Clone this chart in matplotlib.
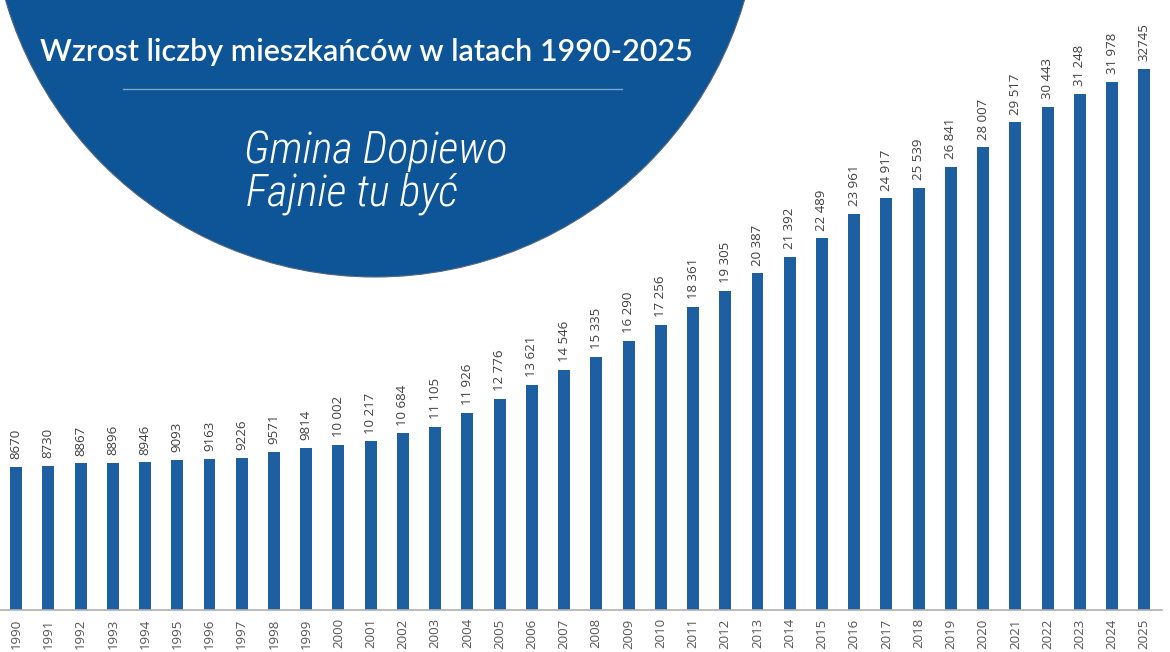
import matplotlib
matplotlib.use("Agg")
import matplotlib.pyplot as plt
from matplotlib.patches import Circle
from matplotlib.lines import Line2D

years = [str(y) for y in range(1990, 2026)]
values = [8670, 8730, 8867, 8896, 8946, 9093, 9163, 9226, 9571, 9814,
          10002, 10217, 10684, 11105, 11926, 12776, 13621, 14546, 15335, 16290,
          17256, 18361, 19305, 20387, 21392, 22489, 23961, 24917, 25539, 26841,
          28007, 29517, 30443, 31248, 31978, 32745]
value_labels = ["8670", "8730", "8867", "8896", "8946", "9093", "9163", "9226", "9571", "9814",
                "10 002", "10 217", "10 684", "11 105", "11 926", "12 776", "13 621", "14 546",
                "15 335", "16 290", "17 256", "18 361", "19 305", "20 387", "21 392", "22 489",
                "23 961", "24 917", "25 539", "26 841", "28 007", "29 517", "30 443", "31 248",
                "31 978", "32745"]
title_text = "Wzrost liczby mieszkańców w latach 1990-2025"
slogan = ["Gmina Dopiewo", "Fajnie tu być"]

W, H = 1170, 652
fig = plt.figure(figsize=(W / 100, H / 100), dpi=100)
fig.patch.set_facecolor("white")

# big circle (pixel coords -> inches)
cx, cy, r = 375, -108, 385
circ = Circle((cx / 100, (H - cy) / 100), r / 100, transform=fig.dpi_scale_trans,
              facecolor="#0D5597", edgecolor="#55657a", lw=0.8, zorder=0.5)
fig.add_artist(circ)

ax = fig.add_axes([0, 42 / H, 1162 / W, 1 - 42 / H])
ax.set_zorder(1)
ax.patch.set_visible(False)
x = list(range(len(years)))
bar_color = "#1D5FA0"
ax.bar(x, values, width=0.37, color=bar_color, zorder=2)
ax.set_xlim(-0.5, 35.55)
ax.set_ylim(0, 36920)
for xi, v, lab in zip(x, values, value_labels):
    ax.annotate(lab, (xi, v), xytext=(0, 5.5), textcoords="offset points",
                rotation=90, ha="center", va="bottom", fontsize=9.5,
                color="#404040", family="Open Sans")
ax.set_xticks(x)
ax.set_xticklabels(years, rotation=90, fontsize=9.5, color="#555555", family="Open Sans")
ax.tick_params(axis="x", length=0, pad=6)
ax.set_yticks([])
for s in ["top", "right", "left"]:
    ax.spines[s].set_visible(False)
ax.spines["bottom"].set_color("#b0b0b0")
ax.spines["bottom"].set_linewidth(1.2)

fig.text(366 / W, 1 - 52 / H, title_text, ha="center", va="center", color="white",
         fontsize=22, family="Lato", fontweight="semibold", zorder=3)
fig.add_artist(Line2D([123 / W, 622 / W], [1 - 89 / H, 1 - 89 / H], color="#7fa3c9",
                      lw=1, transform=fig.transFigure, zorder=3))
script_fonts = ["Roboto Condensed", "Liberation Sans Narrow", "DejaVu Sans"]
fig.text(244 / W, 1 - 163 / H, slogan[0], ha="left", va="baseline", color="white",
         fontsize=32, family=script_fonts, style="italic", fontweight="light",
         fontstretch="condensed", zorder=3)
fig.text(246 / W, 1 - 206 / H, slogan[1], ha="left", va="baseline", color="white",
         fontsize=32, family=script_fonts, style="italic", fontweight="light",
         fontstretch="condensed", zorder=3)

fig.savefig("out.png", dpi=100)
